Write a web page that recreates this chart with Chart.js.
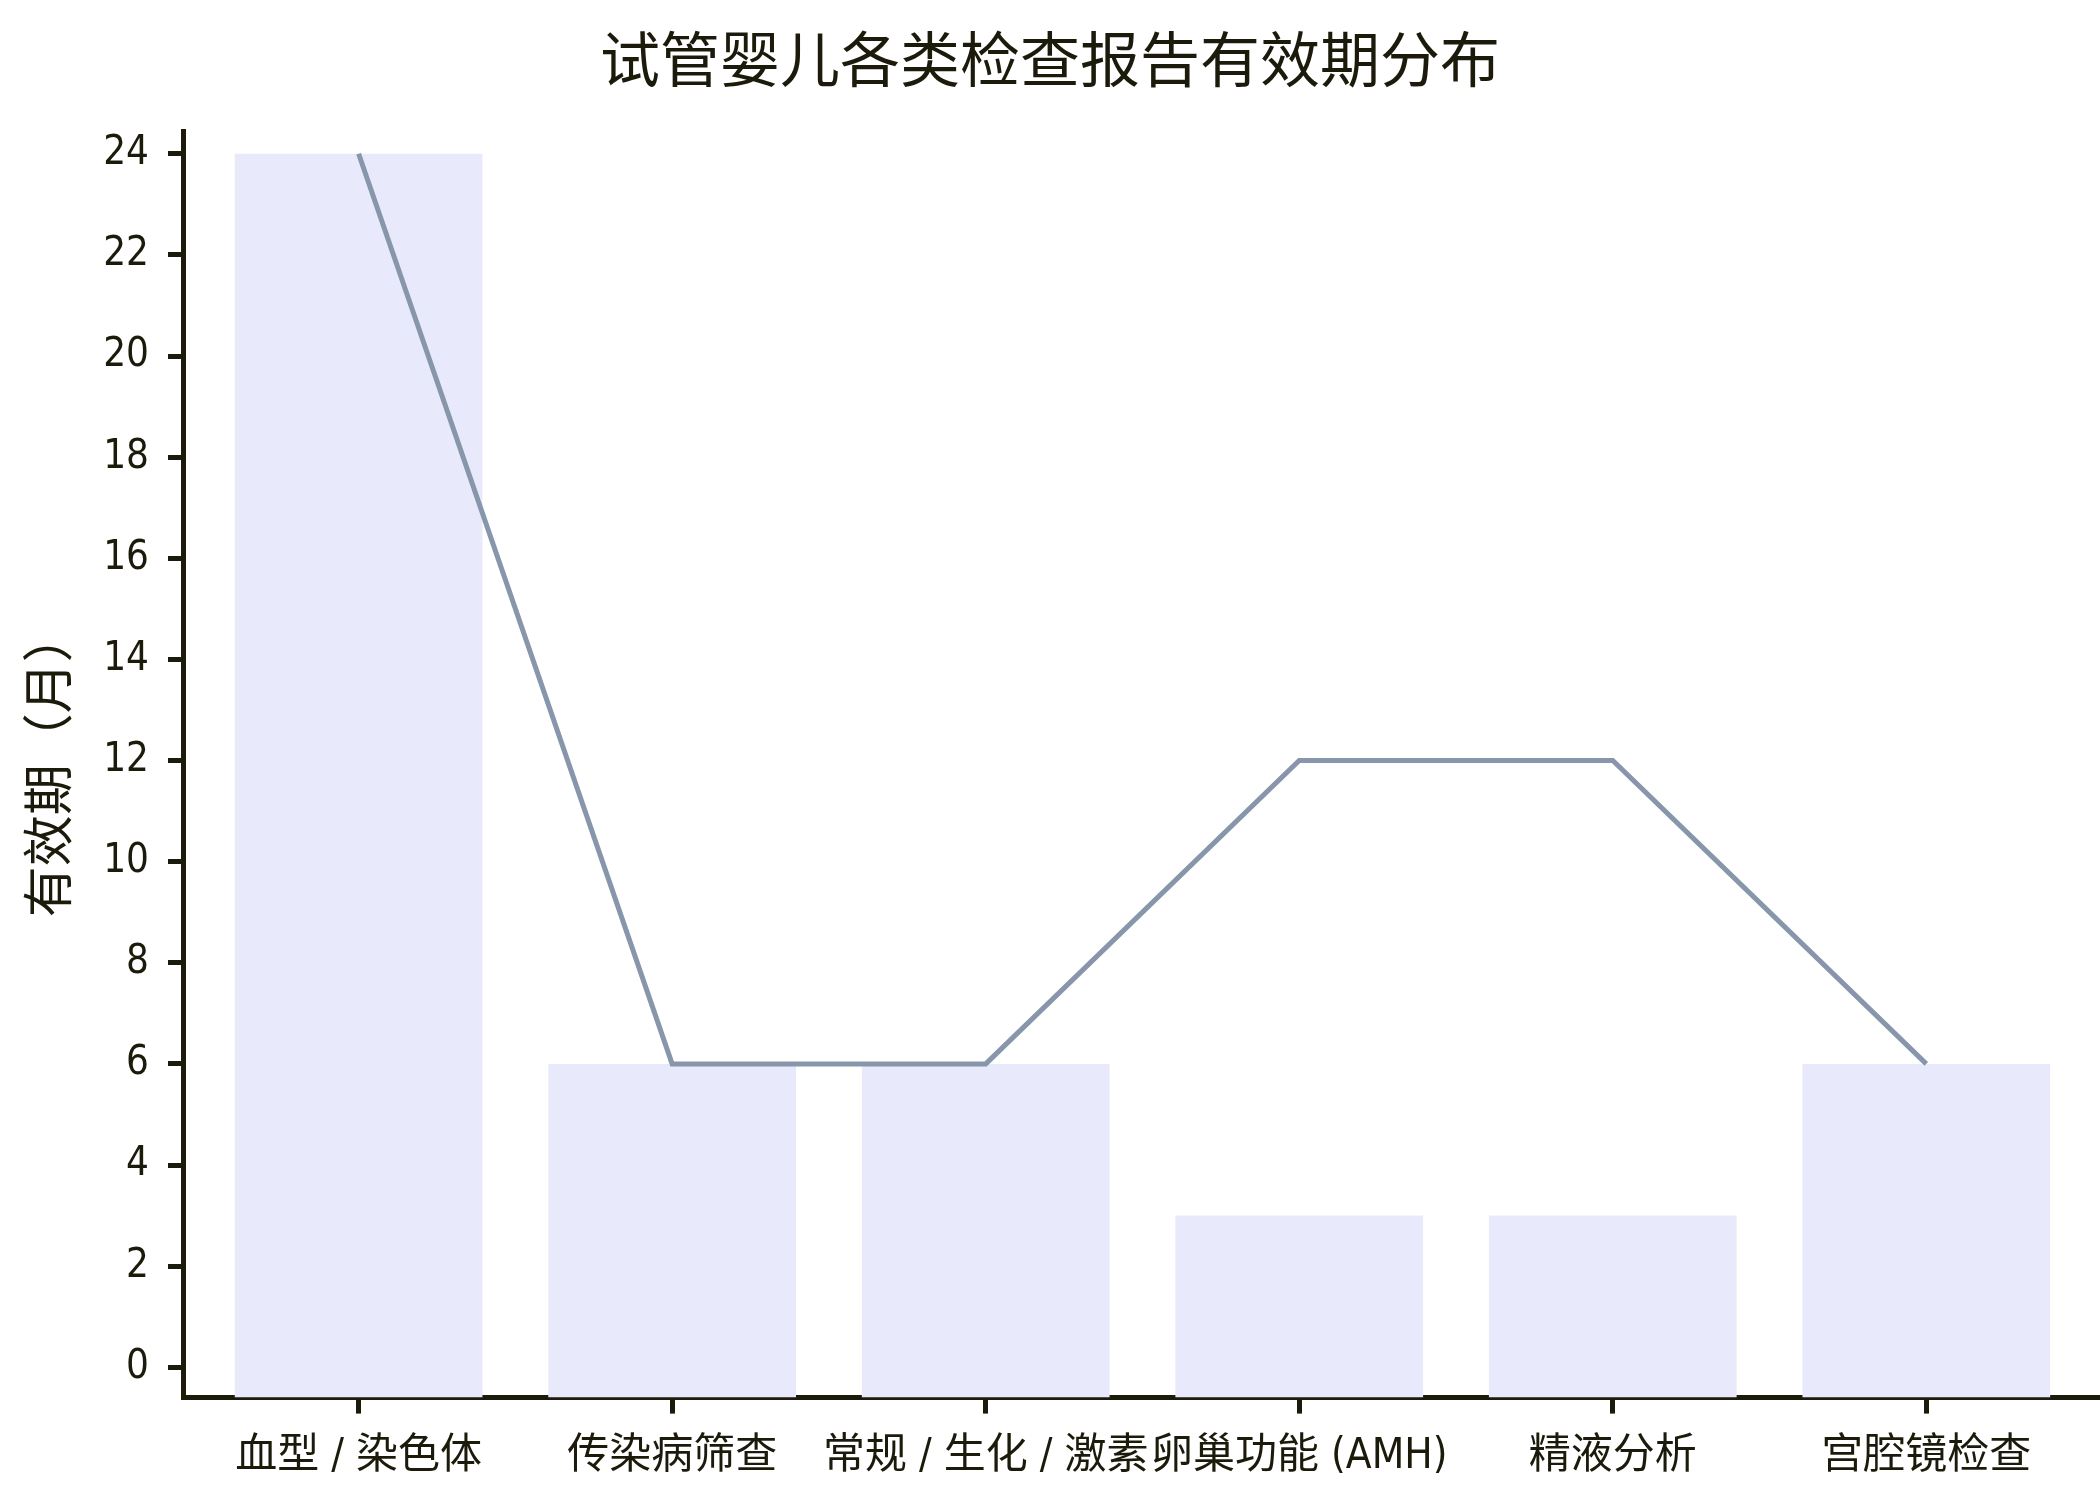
<!DOCTYPE html>
<html>
<head>
<meta charset="utf-8">
<script src="https://cdn.jsdelivr.net/npm/chart.js@4"></script>
<style>
  html, body { margin: 0; padding: 0; background: #ffffff; }
  #wrap { width: 2100px; height: 1500px; position: relative; }
</style>
</head>
<body>
<div id="wrap"><canvas id="c"></canvas></div>
<script>
const chartTitle = '试管婴儿各类检查报告有效期分布';
const yAxisTitle = '有效期（月）';
const categories = ['血型 / 染色体', '传染病筛查', '常规 / 生化 / 激素', '卵巢功能 (AMH)', '精液分析', '宫腔镜检查'];
const validityMonths = [24, 6, 6, 3, 3, 6];
const trendMonths = [24, 6, 6, 12, 12, 6];
const yTicks = [0, 2, 4, 6, 8, 10, 12, 14, 16, 18, 20, 22, 24];
const yMin = -0.6;
const yMax = 24.45;

const ink = '#1c1a0a';
const fontFamily = '"DejaVu Sans Condensed", "Noto Sans CJK SC", "Noto Sans", sans-serif';

const barPoints = categories.map((c, i) => ({ x: i, y: validityMonths[i] }));
const linePoints = categories.map((c, i) => ({ x: i, y: trendMonths[i] }));

new Chart(document.getElementById('c'), {
  data: {
    datasets: [
      {
        type: 'line',
        data: linePoints,
        borderColor: '#8796ab',
        borderWidth: 5,
        pointRadius: 0,
        tension: 0,
        fill: false,
        order: 0
      },
      {
        type: 'bar',
        data: barPoints,
        backgroundColor: '#e8e9fb',
        borderWidth: 0,
        base: yMin,
        barPercentage: 0.79,
        categoryPercentage: 1,
        order: 1
      }
    ]
  },
  options: {
    responsive: true,
    maintainAspectRatio: false,
    devicePixelRatio: 1,
    animation: false,
    layout: { padding: { left: 0, right: 0, top: 0, bottom: 0 } },
    plugins: {
      legend: { display: false },
      tooltip: { enabled: false },
      title: {
        display: true,
        text: chartTitle,
        color: ink,
        font: { family: fontFamily, size: 60, weight: 'normal' },
        padding: { top: 30, bottom: 29 }
      }
    },
    scales: {
      x: {
        type: 'linear',
        min: -0.557,
        max: 5.554,
        offset: false,
        afterBuildTicks: (s) => { s.ticks = categories.map((c, i) => ({ value: i })); },
        ticks: {
          autoSkip: false,
          maxRotation: 0,
          minRotation: 0,
          color: ink,
          padding: 18,
          font: { family: fontFamily, size: 42 },
          callback: (v) => categories[v]
        },
        grid: {
          offset: false,
          drawOnChartArea: false,
          drawTicks: true,
          tickLength: 16,
          tickWidth: 5,
          tickColor: ink
        },
        border: { display: true, color: ink, width: 5 }
      },
      y: {
        type: 'linear',
        min: yMin,
        max: yMax,
        afterBuildTicks: (s) => { s.ticks = yTicks.map(v => ({ value: v })); },
        ticks: {
          color: ink,
          padding: 19,
          font: { family: fontFamily, size: 40 }
        },
        grid: {
          drawOnChartArea: false,
          drawTicks: true,
          tickLength: 16,
          tickWidth: 5,
          tickColor: ink
        },
        border: { display: true, color: ink, width: 5 },
        title: {
          display: true,
          text: yAxisTitle,
          color: ink,
          font: { family: fontFamily, size: 51 },
          padding: { top: 23, bottom: 0 }
        }
      }
    }
  }
});
</script>
</body>
</html>
